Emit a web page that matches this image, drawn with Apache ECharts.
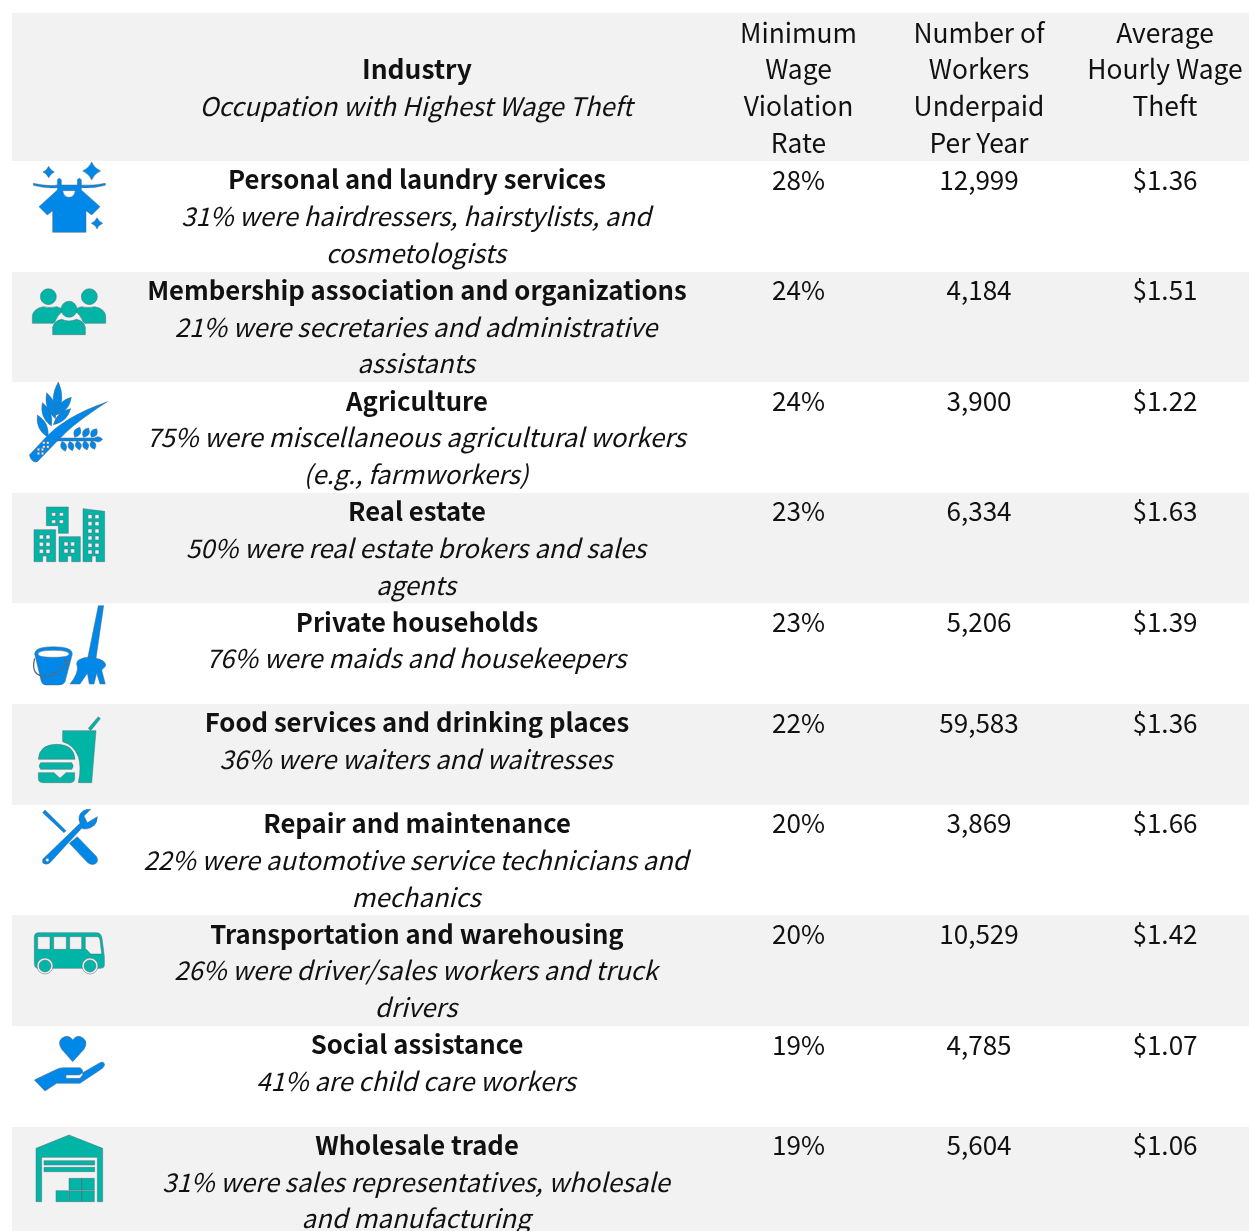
<!DOCTYPE html>
<html>
<head>
<meta charset="utf-8">
<title>Wage theft by industry</title>
<script src="https://cdn.jsdelivr.net/npm/echarts@6/dist/echarts.min.js"></script>
<style>
html, body { margin: 0; padding: 0; background: #fff; }
#main { width: 1249px; height: 1231px; }
</style>
</head>
<body>
<div id="main"></div>
<script>
// table data
var industries = ['Personal and laundry services', 'Membership association and organizations', 'Agriculture', 'Real estate', 'Private households', 'Food services and drinking places', 'Repair and maintenance', 'Transportation and warehousing', 'Social assistance', 'Wholesale trade'];
var occupations = [
    '31% were hairdressers, hairstylists, and\ncosmetologists',
    '21% were secretaries and administrative\nassistants',
    '75% were miscellaneous agricultural workers\n(e.g., farmworkers)',
    '50% were real estate brokers and sales\nagents',
    '76% were maids and housekeepers',
    '36% were waiters and waitresses',
    '22% were automotive service technicians and\nmechanics',
    '26% were driver/sales workers and truck\ndrivers',
    '41% are child care workers',
    '31% were sales representatives, wholesale\nand manufacturing'
];
var violationRates = [28, 24, 24, 23, 23, 22, 20, 20, 19, 19];
var workersUnderpaid = [12999, 4184, 3900, 6334, 5206, 59583, 3869, 10529, 4785, 5604];
var hourlyTheft = [1.36, 1.51, 1.22, 1.63, 1.39, 1.36, 1.66, 1.42, 1.07, 1.06];
var headIndustry = 'Industry';
var headOccupation = 'Occupation with Highest Wage Theft';
var headRate = 'Minimum\nWage\nViolation\nRate';
var headWorkers = 'Number of\nWorkers\nUnderpaid\nPer Year';
var headTheft = 'Average\nHourly Wage\nTheft';

// layout
var W = 1249, H = 1231;
var TABLE_LEFT = 12, TABLE_TOP = 13, HEAD_H = 148;
var ROW_H_3 = 110.6, ROW_H_2 = 100.7;
var LINE_H = 36.7, FIRST_LINE = 18.6;
var COL_X = [417, 798.5, 979, 1165];
var FONT = '"Noto Sans CJK SC", "Noto Sans", sans-serif';
var SIZE_HEAD = 26.4, SIZE_BODY = 26.1, SIZE_BOLD = 25.7, SIZE_ITALIC = 25.7;
var GREY = '#f2f2f2', BLUE = '#0088e8', TEAL = '#00b5a5', EDGE = '#5a6b7c';

function circle(x, y, r) {
    return 'M' + (x - r) + ' ' + y + 'A' + r + ' ' + r + ' 0 1 0 ' + (x + r) + ' ' + y + 'A' + r + ' ' + r + ' 0 1 0 ' + (x - r) + ' ' + y + 'Z';
}
function box(x, y, w, h) {
    return 'M' + x + ' ' + y + 'h' + w + 'v' + h + 'h' + (-w) + 'Z';
}
function boxes(xs, ys, w, h) {
    var s = '';
    xs.forEach(function (x) { ys.forEach(function (y) { s += box(x, y, w, h); }); });
    return s;
}
function leaf(x1, y1, x2, y2, b) {
    // two curves between the tips, b is the bulge
    var mx = (x1 + x2) / 2, my = (y1 + y2) / 2, dx = y2 - y1, dy = x1 - x2, l = Math.sqrt(dx * dx + dy * dy);
    dx = dx / l * b; dy = dy / l * b;
    return 'M' + x1 + ' ' + y1 + 'Q' + (mx + dx) + ' ' + (my + dy) + ' ' + x2 + ' ' + y2 + 'Q' + (mx - dx) + ' ' + (my - dy) + ' ' + x1 + ' ' + y1 + 'Z';
}
function sparkle(x, y, r) {
    var c = r * 0.3;
    return 'M' + x + ' ' + (y - r) + 'Q' + (x + c) + ' ' + (y - c) + ' ' + (x + r) + ' ' + y + 'Q' + (x + c) + ' ' + (y + c) + ' ' + x + ' ' + (y + r) + 'Q' + (x - c) + ' ' + (y + c) + ' ' + (x - r) + ' ' + y + 'Q' + (x - c) + ' ' + (y - c) + ' ' + x + ' ' + (y - r) + 'Z';
}

// icons are drawn at 3x, each from its own origin. 'bg' layers take the row colour
var icons = [
    { originY: 0, color: BLUE, layers: [
        ['fg', sparkle(146, 516, 17) + sparkle(275, 513, 27) + sparkle(291, 670, 17)],
        ['fg', 'M100 550Q150 560 172 555V540Q178 530 184 540V555H232V540Q238 530 244 540V555Q280 558 316 550V556Q280 566 244 563V570L300 620L275 645L258 632V697H158V632L142 645L117 620L172 570V563Q140 566 100 556Z'],
        ['bg', 'M188 572H226Q222 592 207 592Q192 592 188 572Z']
    ] },
    { originY: 0, color: TEAL, layers: [
        ['fg', circle(145, 890, 24) + circle(268, 890, 24)],
        ['fg', 'M97 970V948Q100 925 130 920Q150 925 170 920Q182 922 190 932Q172 945 165 965L160 970Z'],
        ['fg', 'M317 970V948Q314 925 284 920Q264 925 244 920Q232 922 224 932Q242 945 249 965L254 970Z'],
        ['fg', circle(207, 928, 24)],
        ['fg', 'M158 1004V982Q162 962 185 958Q207 968 229 958Q252 962 256 982V1004Z']
    ] },
    { originY: 380, color: BLUE, layers: [
        ['fg', leaf(175, 6, 170, 104, 26) + leaf(140, 38, 166, 116, 24) + leaf(127, 68, 154, 138, 24) + leaf(112, 105, 144, 172, 24)],
        ['fg', leaf(214, 52, 166, 106, 24) + leaf(212, 86, 160, 134, 22)],
        ['fg', 'M88 225L130 180Q190 110 322 65Q240 118 200 155L170 185L112 245Q95 250 88 225Z'],
        ['fg', 'M170 174H300V183H170Z'],
        ['fg', leaf(224, 172, 240, 142, 20) + leaf(250, 172, 266, 144, 20) + leaf(274, 172, 290, 146, 20) + leaf(308, 178, 280, 178, 16)],
        ['fg', leaf(186, 184, 196, 214, 18) + leaf(209, 184, 217, 212, 18) + leaf(231, 182, 239, 210, 18) + leaf(253, 182, 261, 210, 18) + leaf(274, 182, 284, 208, 18)],
        ['bg', boxes([112, 124], [205, 217], 7, 7) + boxes([128, 140], [185, 197], 7, 7)]
    ] },
    { originY: 380, color: TEAL, layers: [
        ['fg', 'M139 381H205V460H175V437H139Z'],
        ['bg', boxes([155, 178], [398, 420], 12, 10)],
        ['fg', 'M102 449H167V545H140V528H128V545H102Z'],
        ['bg', boxes([118, 138], [465, 487, 508], 12, 12)],
        ['fg', 'M177 470H241V545H215V528H203V545H177Z'],
        ['bg', boxes([192, 212], [486, 507], 12, 12)],
        ['fg', 'M249 386L314 394V545H288V528H276V545H249Z'],
        ['bg', boxes([264, 285], [404, 425, 447, 468, 490, 510], 12, 12)]
    ] },
    { originY: 380, color: BLUE, layers: [
        ['fg', 'M104 822Q104 800 160 800Q217 800 217 822L195 905Q190 915 175 915H140Q128 915 124 905Z'],
        ['bg', 'M114 822Q114 811 160 811Q207 811 207 822Q207 832 160 832Q114 832 114 822Z'],
        ['line', 'M104 835Q92 880 125 888Q165 892 203 850Q208 838 192 842'],
        ['fg', 'M295 677H311L288 835H263Z'],
        ['fg', 'M240 838Q262 825 300 838Q318 845 317 858L305 870L316 912H300L290 880L282 912H268L262 880L240 912H210Q235 880 232 860Q225 845 240 838Z']
    ] },
    { originY: 700, color: TEAL, layers: [
        ['fg', 'M188 92H288L275 248H235Q245 200 235 170Q222 135 188 125Z'],
        ['fg', 'M265 85L295 50L301 56L272 92Z'],
        ['fg', 'M115 178Q118 133 170 133Q222 133 225 178Z'],
        ['fg', 'M122 188H215Q224 198 215 208H122Q113 198 122 188Z'],
        ['fg', 'M115 218H162L180 235L198 218H224V235Q224 248 210 248H130Q115 248 115 235Z']
    ] },
    { originY: 700, color: BLUE, layers: [
        ['fg', 'M128 338L135 330L198 392L192 398Z'],
        ['fg', 'M232 410L290 470Q297 485 285 492Q272 497 262 487L208 430Z'],
        ['fg', 'M128 478L240 370Q230 345 250 332Q260 327 272 328L252 348L262 368L292 350Q292 370 280 378Q262 392 245 385L150 488Q138 497 128 488Z'],
        ['bg', circle(142, 480, 5)]
    ] },
    { originY: 700, color: TEAL, layers: [
        ['fg', 'M115 698H290Q303 698 306 715L313 770V795Q313 805 300 805H115Q103 805 103 790V712Q103 698 115 698Z'],
        ['bg', box(113, 710, 37, 38) + box(161, 710, 38, 38) + box(209, 710, 36, 38)],
        ['bg', 'M256 710H292Q298 710 300 720L305 762H272L256 745Z'],
        ['bg', circle(135, 798, 24) + circle(270, 798, 24)],
        ['fg', circle(135, 798, 18) + circle(270, 798, 18)]
    ] },
    { originY: 1020, color: BLUE, layers: [
        ['fg', 'M218 125L185 88Q172 68 185 55Q205 40 218 60Q232 40 250 55Q265 68 252 88Z'],
        ['fg', 'M103 180L170 148Q178 143 190 143H240Q250 148 248 158L300 128Q312 122 314 135Q312 143 300 150L240 190H170L135 213Z'],
        ['bg', 'M198 165H238L248 158V164L240 175H198Z']
    ] },
    { originY: 1020, color: TEAL, layers: [
        ['fg', 'M108 385L207 345L308 385V545H292V412H125V545H108Z'],
        ['fg', box(132, 422, 152, 13) + box(132, 442, 152, 13)],
        ['fg', boxes([207, 245], [475], 38, 35) + boxes([168, 207, 245], [512], 38, 33)]
    ] }
];

function rowHeight(i) {
    return occupations[i].split('\n').length > 1 ? ROW_H_3 : ROW_H_2;
}
var rowTops = [];
var nextTop = TABLE_TOP + HEAD_H;
for (var r = 0; r < industries.length; r++) {
    rowTops.push(nextTop);
    nextTop += rowHeight(r);
}

function textEl(api, x, y, text, size, opt) {
    var p = api.coord([x, y]);
    return {
        type: 'text',
        x: p[0],
        y: p[1],
        style: {
            text: text,
            fontFamily: FONT,
            fontSize: size,
            fontWeight: opt && opt.bold ? 700 : 400,
            fontStyle: opt && opt.italic ? 'italic' : 'normal',
            fill: '#111',
            align: 'center',
            verticalAlign: 'middle'
        }
    };
}

// one text per line so line spacing stays on LINE_H
function linesEl(api, x, top, text, size, opt) {
    return text.split('\n').map(function (line, i) {
        return textEl(api, x, top + i * LINE_H, line, size, opt);
    });
}

function bandEl(api, top, h, fill) {
    var a = api.coord([TABLE_LEFT, top]);
    var b = api.coord([W, top + h]);
    return {
        type: 'rect',
        shape: { x: a[0], y: Math.round(a[1]), width: b[0] - a[0], height: Math.round(b[1]) - Math.round(a[1]) },
        style: { fill: fill }
    };
}

function iconEl(api, icon, bg) {
    var p = api.coord([0, icon.originY]);
    return {
        type: 'group',
        x: p[0],
        y: p[1],
        scaleX: 1 / 3,
        scaleY: 1 / 3,
        children: icon.layers.map(function (layer) {
            var style;
            if (layer[0] === 'line') {
                style = { fill: 'none', stroke: EDGE, lineWidth: 4 };
            } else if (layer[0] === 'bg') {
                style = { fill: bg, stroke: EDGE, lineWidth: 1.5 };
            } else {
                style = { fill: icon.color, stroke: EDGE, lineWidth: 1.5 };
            }
            return { type: 'path', shape: { pathData: layer[1] }, style: style };
        })
    };
}

function renderHead(params, api) {
    var c = [bandEl(api, TABLE_TOP, HEAD_H, GREY)];
    c.push(textEl(api, COL_X[0], 68.6, headIndustry, SIZE_HEAD, { bold: true }));
    c.push(textEl(api, COL_X[0] - 1, 106, headOccupation, SIZE_ITALIC, { italic: true }));
    c = c.concat(linesEl(api, COL_X[1], TABLE_TOP + 19.6, headRate, SIZE_HEAD));
    c = c.concat(linesEl(api, COL_X[2], TABLE_TOP + 19.6, headWorkers, SIZE_HEAD));
    c = c.concat(linesEl(api, COL_X[3], TABLE_TOP + 19.6, headTheft, SIZE_HEAD));
    return { type: 'group', children: c };
}

function renderRow(params, api) {
    var i = params.dataIndex;
    var top = rowTops[i];
    var bg = i % 2 === 1 ? GREY : '#ffffff';
    var y = top + FIRST_LINE;
    var c = [bandEl(api, top, rowHeight(i), bg)];
    c.push(iconEl(api, icons[i], bg));
    c.push(textEl(api, COL_X[0], y, industries[i], SIZE_BOLD, { bold: true }));
    c = c.concat(linesEl(api, COL_X[0] - 1, y + LINE_H, occupations[i], SIZE_ITALIC, { italic: true }));
    c.push(textEl(api, COL_X[1], y, violationRates[i] + '%', SIZE_BODY));
    c.push(textEl(api, COL_X[2], y, workersUnderpaid[i].toLocaleString('en-US'), SIZE_BODY));
    c.push(textEl(api, COL_X[3], y, '$' + hourlyTheft[i].toFixed(2), SIZE_BODY));
    return { type: 'group', children: c };
}

var myChart = echarts.init(document.getElementById('main'), null, { renderer: 'canvas' });
var option = {
    backgroundColor: '#ffffff',
    animation: false,
    grid: { left: 0, right: 0, top: 0, bottom: 0 },
    xAxis: { type: 'value', min: 0, max: W, show: false },
    yAxis: { type: 'value', min: 0, max: H, inverse: true, show: false },
    series: [
        { type: 'custom', silent: true, clip: true, renderItem: renderHead, data: [[0, 0]] },
        { type: 'custom', silent: true, clip: true, renderItem: renderRow, data: industries.map(function (n, i) { return [0, rowTops[i]]; }) }
    ]
};
myChart.setOption(option);
</script>
</body>
</html>
